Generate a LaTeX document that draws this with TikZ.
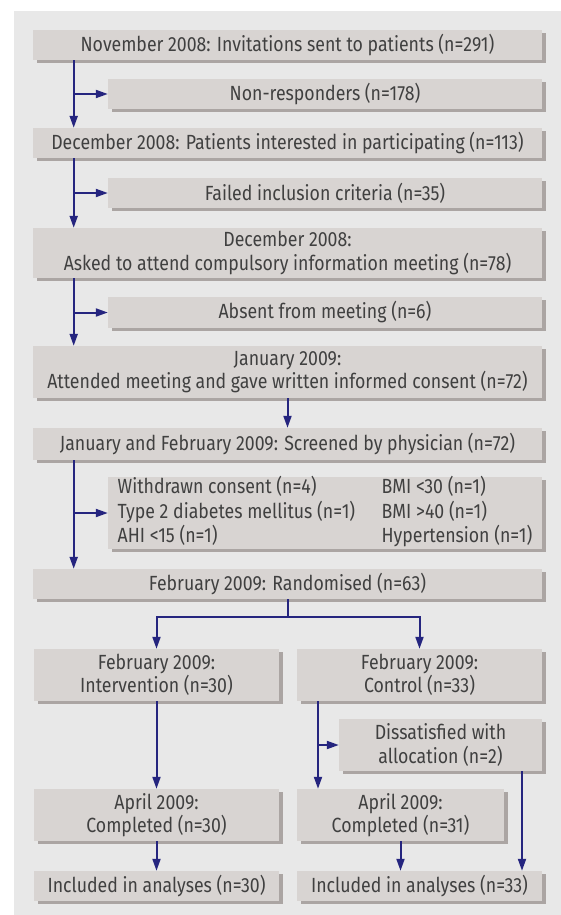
\documentclass[tikz,border=0pt]{standalone}
\usepackage{fontspec}
\setmainfont{Fira Sans}[FakeStretch=0.864]
\usetikzlibrary{shadows,arrows.meta}
\definecolor{panel}{HTML}{E8E8E8}
\definecolor{boxc}{HTML}{D8D4D2}
\definecolor{shadc}{HTML}{ABA5A3}
\definecolor{txt}{HTML}{404040}
\definecolor{arr}{HTML}{25257F}
\begin{document}
\begin{tikzpicture}[x=1pt,y=-1pt,
  fbox/.style={fill=boxc, text=txt, inner sep=0pt, align=center,
    font=\fontsize{20.5}{23.3}\selectfont,
    drop shadow={shadow xshift=4pt,shadow yshift=-3pt,fill=shadc,opacity=1}},
  link/.style={draw=arr, line width=2pt, -{Triangle[length=12pt,width=8pt]}},
  plain/.style={draw=arr, line width=2pt}]
\useasboundingbox (0,0) rectangle (561,915);
\fill[white] (0,0) rectangle (561,915);
\fill[panel] (14,11) rectangle (561,915);

\node[fbox, minimum width=509pt, minimum height=30pt] (b1) at (287.5,45) {November 2008: Invitations sent to patients (n=291)};
\node[fbox, minimum width=434pt, minimum height=30pt] (b2) at (325,94) {Non-responders (n=178)};
\node[fbox, minimum width=509pt, minimum height=30pt] (b3) at (287.5,143) {December 2008: Patients interested in participating (n=113)};
\node[fbox, minimum width=434pt, minimum height=30pt] (b4) at (325,193) {Failed inclusion criteria (n=35)};
\node[fbox, minimum width=509pt, minimum height=50pt] (b5) at (287.5,253) {December 2008:\\Asked to attend compulsory information meeting (n=78)};
\node[fbox, minimum width=434pt, minimum height=31pt] (b6) at (325,312.5) {Absent from meeting (n=6)};
\node[fbox, minimum width=509pt, minimum height=52pt] (b7) at (287.5,372) {January 2009:\\Attended meeting and gave written informed consent (n=72)};
\node[fbox, minimum width=509pt, minimum height=32pt] (b8) at (287.5,444) {January and February 2009: Screened by physician (n=72)};
\node[fbox, minimum width=434pt, minimum height=72pt] (b9) at (325,513) {\begin{tabular}{@{}p{264pt}@{}l@{}}
Withdrawn consent (n=4) & BMI <30 (n=1)\\
Type 2 diabetes mellitus (n=1) & BMI >40 (n=1)\\
AHI <15 (n=1) & Hypertension (n=1)
\end{tabular}};
\node[fbox, minimum width=509pt, minimum height=30pt] (b10) at (287.5,584) {February 2009: Randomised (n=63)};
\node[fbox, minimum width=245pt, minimum height=52pt] (b11) at (156.5,675) {February 2009:\\Intervention (n=30)};
\node[fbox, minimum width=245pt, minimum height=52pt] (b12) at (419.5,675) {February 2009:\\Control (n=33)};
\node[fbox, minimum width=203pt, minimum height=52pt] (b13) at (440.5,745) {Dissatisfied with\\allocation (n=2)};
\node[fbox, minimum width=245pt, minimum height=52pt] (b14) at (156.5,815) {April 2009:\\Completed (n=30)};
\node[fbox, minimum width=207pt, minimum height=52pt] (b15) at (400.5,815) {April 2009:\\Completed (n=31)};
\node[fbox, minimum width=245pt, minimum height=30pt] (b16) at (156.5,886) {Included in analyses (n=30)};
\node[fbox, minimum width=245pt, minimum height=30pt] (b17) at (419.5,886) {Included in analyses (n=33)};

\coordinate (xl) at (73.7,0);
\coordinate (xc) at (318,0);
\coordinate (xr) at (522,0);

\draw[link] (b1.south -| xl) -- (b3.north -| xl);
\draw[link] (b1.south -| xl) |- (b2.west);
\draw[link] (b3.south -| xl) -- (b5.north -| xl);
\draw[link] (b3.south -| xl) |- (b4.west);
\draw[link] (b5.south -| xl) -- (b7.north -| xl);
\draw[link] (b5.south -| xl) |- (b6.west);
\draw[link] (b7.south) -- (b8.north);
\draw[link] (b8.south -| xl) -- (b10.north -| xl);
\draw[link] (b8.south -| xl) |- (b9.west);
\draw[plain] (b10.south) -- ++(0,18) coordinate (sp);
\draw[link] (sp) -| (b11.north);
\draw[link] (sp) -| (b12.north);
\draw[link] (b11.south) -- (b14.north);
\draw[link] (b12.south -| xc) -- (b15.north -| xc);
\draw[link] (b12.south -| xc) |- (b13.west);
\draw[link] (b13.south -| xr) -- (b17.north -| xr);
\draw[link] (b14.south) -- (b16.north);
\draw[link] (b15.south) -- (b15.south |- b17.north);
\end{tikzpicture}
\end{document}
